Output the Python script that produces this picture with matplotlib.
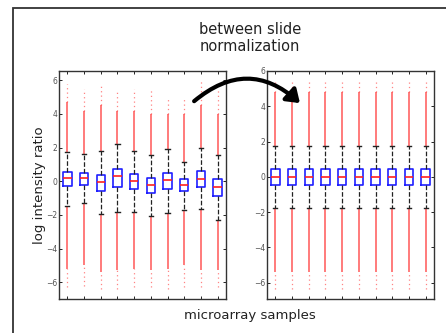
import numpy as np
import matplotlib.pyplot as plt
from matplotlib.patches import FancyArrowPatch, Rectangle

# valores (antes / depois da normalizacao)
samples = np.arange(1, 11)
med_raw = [0.18, 0.2, -0.06, 0.3, 0.04, -0.2, 0.06, -0.2, 0.16, -0.34]
q1_raw = [-0.28, -0.24, -0.56, -0.32, -0.48, -0.72, -0.48, -0.6, -0.32, -0.85]
q3_raw = [0.52, 0.48, 0.38, 0.72, 0.44, 0.2, 0.46, 0.12, 0.6, 0.12]
wlo_raw = [-1.5, -1.3, -1.95, -1.8, -1.8, -2.05, -1.9, -1.7, -1.67, -2.3]
whi_raw = [1.75, 1.6, 1.8, 2.2, 1.8, 1.57, 1.9, 1.15, 1.95, 1.55]
dhi_raw = [4.7, 4.2, 4.5, 4.2, 4.2, 4.0, 4.0, 4.0, 4.5, 4.0]
max_raw = [5.75, 5.5, 5.75, 5.3, 5.5, 5.5, 5.0, 5.0, 5.95, 5.55]
dlo_raw = [-5.2, -5.0, -5.4, -5.3, -5.2, -5.3, -5.2, -5.0, -5.3, -5.3]
min_raw = [-6.3, -6.2, -6.4, -6.4, -6.3, -6.3, -6.4, -6.3, -6.3, -6.3]

med_norm = [0.0] * 10
q1_norm = [-0.47] * 10
q3_norm = [0.44] * 10
wlo_norm = [-1.78] * 10
whi_norm = [1.72] * 10
dhi_norm = [4.8] * 10
max_norm = [5.43] * 10
dlo_norm = [-5.4] * 10
min_norm = [-6.36] * 10

yticks = [-6, -4, -2, 0, 2, 4, 6]

fig = plt.figure(figsize=(4.46, 3.33), dpi=100)

# moldura externa
fig.patches.append(Rectangle((13/446, -0.1), 1.1, 1 - 8/333 + 0.1, transform=fig.transFigure,
                             fill=False, edgecolor='#333333', lw=1.3))

def painel(ax, med, q1, q3, wlo, whi, dhi, mx, dlo, mn, ylim):
	# pontos "outliers" em vermelho
	ax.vlines(samples, whi, dhi, color='#ff2020', lw=1.1, alpha=0.75, zorder=1)
	ax.vlines(samples, dhi, mx, color='#ff3030', lw=0.9, alpha=0.6, linestyles=(0, (1, 2.5)), zorder=1)
	ax.vlines(samples, dlo, wlo, color='#ff2020', lw=1.1, alpha=0.75, zorder=1)
	ax.vlines(samples, mn, dlo, color='#ff3030', lw=0.9, alpha=0.6, linestyles=(0, (1, 2.5)), zorder=1)
	stats = []
	for i in range(len(samples)):
		stats.append(dict(med=med[i], q1=q1[i], q3=q3[i], whislo=wlo[i], whishi=whi[i], fliers=[]))
	ax.bxp(stats, positions=samples, widths=0.5, showfliers=False,
		boxprops=dict(color='#1f1fff', lw=1.2),
		medianprops=dict(color='#ff2020', lw=1.2),
		whiskerprops=dict(color='#222222', lw=0.9, linestyle='--'),
		capprops=dict(color='#222222', lw=1.0), capwidths=0.25)
	ax.set_xlim(0.5, 10.5)
	ax.set_ylim(*ylim)
	ax.set_yticks(yticks)
	ax.set_xticks(samples)
	ax.set_xticklabels([])
	ax.tick_params(direction='in', length=2, width=0.6, top=True, right=True,
		labelsize=5.5, labelcolor='#555555', pad=1)
	for s in ax.spines.values():
		s.set_color('#333333')
		s.set_linewidth(1.0)

ax1 = fig.add_axes([59/446, 1 - 299/333, 167/446, 228/333])
painel(ax1, med_raw, q1_raw, q3_raw, wlo_raw, whi_raw, dhi_raw, max_raw, dlo_raw, min_raw, (-7.0, 6.55))
ax2 = fig.add_axes([267/446, 1 - 299/333, 167/446, 228/333])
painel(ax2, med_norm, q1_norm, q3_norm, wlo_norm, whi_norm, dhi_norm, max_norm, dlo_norm, min_norm, (-6.93, 6.0))

fig.text(250/446, 1 - 38/333, 'between slide\nnormalization', ha='center', va='center',
	fontsize=10.5, color='#222222', linespacing=1.15)
fig.text(40/446, 1 - 185/333, 'log intensity ratio', rotation=90, ha='center', va='center',
	fontsize=9.5, color='#222222')
fig.text(250/446, 1 - 316/333, 'microarray samples', ha='center', va='center',
	fontsize=9.5, color='#222222')

# seta curva
seta = FancyArrowPatch((192/446, 1 - 103/333), (302/446, 1 - 105/333), transform=fig.transFigure,
	connectionstyle='arc3,rad=-0.45', arrowstyle='-|>,head_length=5,head_width=3.5',
	color='black', lw=3, mutation_scale=1.5, zorder=10)
fig.patches.append(seta)

fig.savefig('out.png', dpi=100)
